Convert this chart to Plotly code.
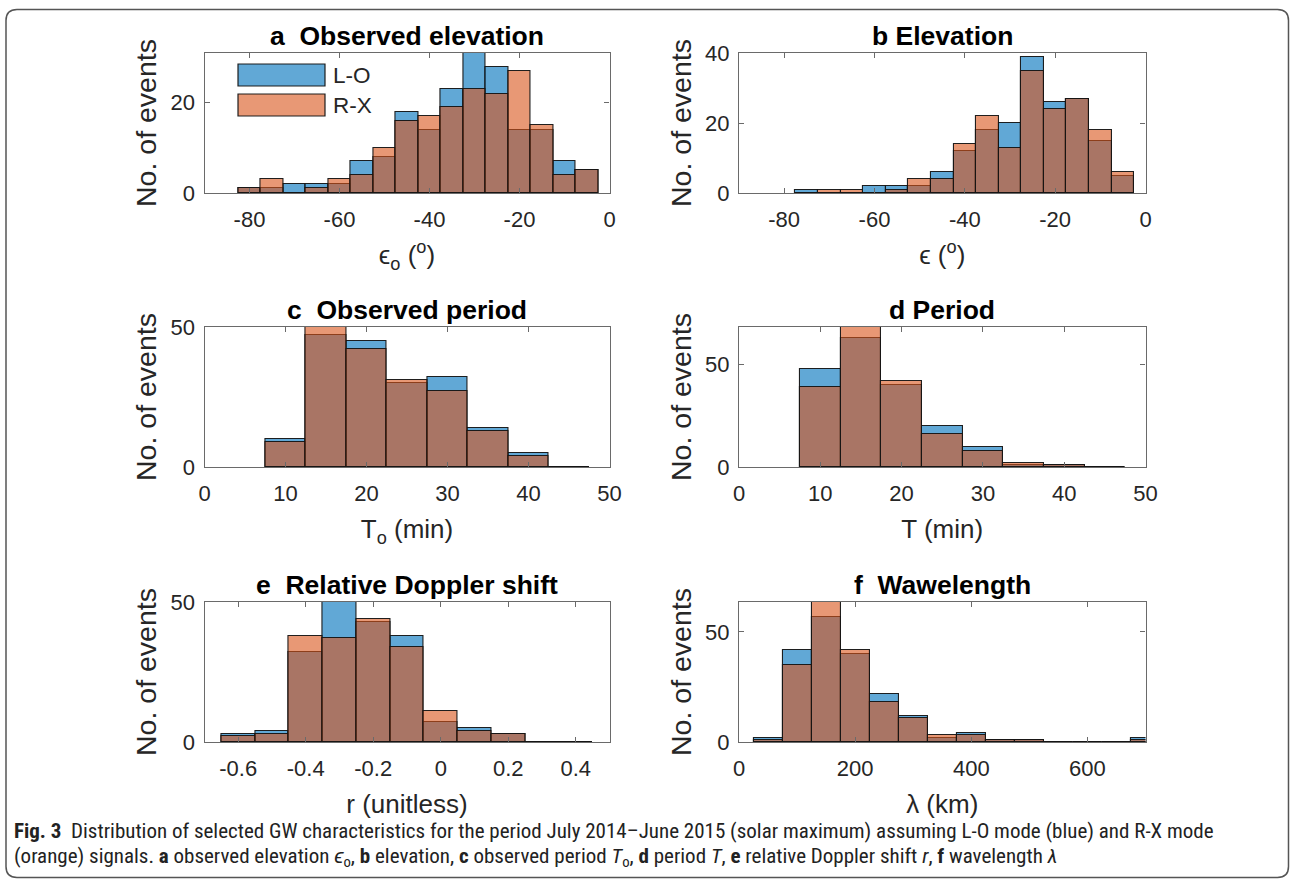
import plotly.graph_objects as go

# ---------------- data ----------------
a_centers = [-80, -75, -70, -65, -60, -55, -50, -45, -40, -35, -30, -25, -20, -15, -10, -5]
a_LO = [1, 1, 2, 2, 2, 7, 8, 18, 14, 23, 31, 28, 14, 14, 7, 5]
a_RX = [1, 3, 0, 1, 3, 4, 10, 16, 17, 19, 23, 22, 27, 15, 4, 5]

b_centers = [-75, -70, -65, -60, -55, -50, -45, -40, -35, -30, -25, -20, -15, -10, -5]
b_LO = [1, 0, 0, 2, 2, 2, 6, 12, 18, 20, 39, 26, 27, 15, 5]
b_RX = [0, 1, 1, 0, 1, 4, 4, 14, 22, 13, 35, 24, 27, 18, 6]

c_centers = [10, 15, 20, 25, 30, 35, 40, 45]
c_LO = [10, 47, 45, 30, 32, 14, 5, 0]
c_RX = [9, 53, 42, 31, 27, 13, 4, 0]

d_centers = [10, 15, 20, 25, 30, 35, 40, 45]
d_LO = [48, 63, 40, 20, 10, 1, 1, 0]
d_RX = [39, 70, 42, 16, 8, 2, 1, 0]

e_centers = [-0.6, -0.5, -0.4, -0.3, -0.2, -0.1, 0.0, 0.1, 0.2, 0.3, 0.4]
e_LO = [3, 4, 32, 53, 43, 38, 7, 5, 3, 0, 0]
e_RX = [2, 3, 38, 37, 44, 34, 11, 4, 3, 0, 0]

f_centers = [50, 100, 150, 200, 250, 300, 350, 400, 450, 500, 550, 600, 650, 700]
f_LO = [2, 42, 57, 40, 22, 12, 2, 4, 1, 1, 0, 0, 0, 2]
f_RX = [1, 35, 65, 42, 18, 11, 3, 3, 1, 1, 0, 0, 0, 1]

elev_ticks = [-80, -60, -40, -20, 0]
elev_ticktext = ["-80", "-60", "-40", "-20", "0"]
period_ticks = [0, 10, 20, 30, 40, 50]
period_ticktext = ["0", "10", "20", "30", "40", "50"]
r_ticks = [-0.6, -0.4, -0.2, 0, 0.2, 0.4]
r_ticktext = ["-0.6", "-0.4", "-0.2", "0", "0.2", "0.4"]
lam_ticks = [0, 200, 400, 600]
lam_ticktext = ["0", "200", "400", "600"]

titles = ["a\u00a0 Observed elevation", "b\u00a0Elevation", "c\u00a0 Observed period",
          "d\u00a0Period", "e\u00a0 Relative Doppler shift", "f\u00a0 Wawelength"]
xlabels = ["\u03f5<sub>o</sub> (<sup>o</sup>)", "\u03f5 (<sup>o</sup>)", "T<sub>o</sub> (min)",
           "T (min)", "r (unitless)", "\u03bb (km)"]
ylabel = "No. of events"
series_names = ["L-O", "R-X"]

# ---------------- styling ----------------
W, H = 1290, 879
FONT = "Liberation Sans, Arial, Helvetica, sans-serif"
BLUE = "rgba(0,114,189,0.62)"
ORANGE = "rgba(217,83,25,0.6)"
EDGE = "rgba(20,20,20,0.95)"
AXC = "#6a6a6a"
TXT = "#262626"


def px(x):
    return x / W


def py(y):
    return 1 - y / H


cols = [(204.5, 609.5), (739.0, 1145.5)]
rows = [(53.0, 193.0), (327.0, 467.0), (602.0, 742.0)]

panels = [
    dict(c=a_centers, lo=a_LO, rx=a_RX, w=5, xr=[-90, 0], yr=[0, 31], tv=elev_ticks, tt=elev_ticktext, yt=[0, 20]),
    dict(c=b_centers, lo=b_LO, rx=b_RX, w=5, xr=[-90, 0], yr=[0, 40], tv=elev_ticks, tt=elev_ticktext, yt=[0, 20, 40]),
    dict(c=c_centers, lo=c_LO, rx=c_RX, w=5, xr=[0, 50], yr=[0, 50], tv=period_ticks, tt=period_ticktext, yt=[0, 50]),
    dict(c=d_centers, lo=d_LO, rx=d_RX, w=5, xr=[0, 50], yr=[0, 68.4], tv=period_ticks, tt=period_ticktext, yt=[0, 50]),
    dict(c=e_centers, lo=e_LO, rx=e_RX, w=0.1, xr=[-0.7, 0.5], yr=[0, 50], tv=r_ticks, tt=r_ticktext, yt=[0, 50]),
    dict(c=f_centers, lo=f_LO, rx=f_RX, w=50, xr=[0, 700], yr=[0, 63.6], tv=lam_ticks, tt=lam_ticktext, yt=[0, 50]),
]

fig = go.Figure()
layout_axes = {}
annotations = []

for i, p in enumerate(panels):
    k = i + 1
    sfx = "" if k == 1 else str(k)
    r, cidx = divmod(i, 2)
    x0, x1 = cols[cidx]
    y0, y1 = rows[r]
    n = len(p["c"])
    for name, vals, col in ((series_names[0], p["lo"], BLUE), (series_names[1], p["rx"], ORANGE)):
        fig.add_trace(go.Bar(
            x=p["c"], y=vals, width=[p["w"]] * n, name=name,
            marker=dict(color=col, line=dict(color=EDGE, width=1.1)),
            xaxis="x" + sfx, yaxis="y" + sfx, showlegend=False,
        ))
    layout_axes["xaxis" + sfx] = dict(
        domain=[px(x0), px(x1)], range=p["xr"], anchor="y" + sfx,
        tickmode="array", tickvals=p["tv"], ticktext=p["tt"],
        ticks="inside", ticklen=5, tickcolor=AXC, tickwidth=1,
        showline=True, linecolor=AXC, linewidth=1.2, mirror="ticks",
        showgrid=False, zeroline=False, automargin=False,
        tickfont=dict(family=FONT, size=22, color=TXT), ticklabelstandoff=6,
        title=dict(text=xlabels[i], font=dict(family=FONT, size=26, color=TXT), standoff=15),
        fixedrange=True,
    )
    layout_axes["yaxis" + sfx] = dict(
        domain=[py(y1), py(y0)], range=p["yr"], anchor="x" + sfx,
        tickmode="array", tickvals=p["yt"],
        ticks="inside", ticklen=5, tickcolor=AXC, tickwidth=1,
        showline=True, linecolor=AXC, linewidth=1.2, mirror="ticks",
        showgrid=False, zeroline=False, automargin=False,
        tickfont=dict(family=FONT, size=22, color=TXT), ticklabelstandoff=4,
        title=dict(text=ylabel, font=dict(family=FONT, size=28.5, color=TXT), standoff=5),
        fixedrange=True,
    )
    annotations.append(dict(
        text="<b>" + titles[i] + "</b>", x=px((x0 + x1) / 2), y=py(y0), xref="paper", yref="paper",
        xanchor="center", yanchor="bottom", yshift=0, showarrow=False,
        font=dict(family=FONT, size=26.5, color="#000000"),
    ))

# legend (panel a) drawn as swatches + text
shapes = []
leg = [(series_names[0], BLUE, 64, 86), (series_names[1], ORANGE, 94, 116)]
for name, col, t, b in leg:
    shapes.append(dict(type="rect", xref="paper", yref="paper", x0=px(238), x1=px(325), y0=py(b), y1=py(t),
                       fillcolor=col, line=dict(color=EDGE, width=1.2), layer="above"))
    annotations.append(dict(text=name, x=px(331), y=py((t + b) / 2), xref="paper", yref="paper",
                            xanchor="left", yanchor="middle", showarrow=False,
                            font=dict(family=FONT, size=22.5, color=TXT)))

# outer rounded frame
fx0, fx1, fy0, fy1, rad = 6, 1288.5, 9.5, 877.5, 11


def P(x, y):
    return f"{px(x):.6f},{py(y):.6f}"


frame_path = (f"M {P(fx0 + rad, fy0)} L {P(fx1 - rad, fy0)} Q {P(fx1, fy0)} {P(fx1, fy0 + rad)} "
              f"L {P(fx1, fy1 - rad)} Q {P(fx1, fy1)} {P(fx1 - rad, fy1)} "
              f"L {P(fx0 + rad, fy1)} Q {P(fx0, fy1)} {P(fx0, fy1 - rad)} "
              f"L {P(fx0, fy0 + rad)} Q {P(fx0, fy0)} {P(fx0 + rad, fy0)} Z")
shapes.append(dict(type="path", path=frame_path, xref="paper", yref="paper",
                   line=dict(color="#555555", width=1.5), fillcolor="rgba(0,0,0,0)"))

# caption
CAPFONT = "Liberation Sans Narrow, Arial Narrow, Roboto Condensed, Liberation Sans, sans-serif"
cap1 = ("<b>Fig. 3</b>\u00a0 Distribution of selected GW characteristics for the period July 2014\u2013June 2015 "
        "(solar maximum) assuming L-O mode (blue) and R-X mode")
cap2 = ("(orange) signals. <b>a</b> observed elevation <i>\u03f5</i><sub>o</sub>, <b>b</b> elevation, "
        "<b>c</b> observed period <i>T</i><sub>o</sub>, <b>d</b> period <i>T</i>, <b>e</b> relative Doppler shift "
        "<i>r</i>, <b>f</b> wavelength <i>\u03bb</i>")
annotations.append(dict(text=cap1, x=px(12), y=py(831), xref="paper", yref="paper", xanchor="left",
                        yanchor="middle", showarrow=False, font=dict(family=CAPFONT, size=21, color="#222222")))
annotations.append(dict(text=cap2, x=px(12), y=py(857), xref="paper", yref="paper", xanchor="left",
                        yanchor="middle", showarrow=False, font=dict(family=CAPFONT, size=21, color="#222222")))

fig.update_layout(
    width=W, height=H, margin=dict(l=0, r=0, t=0, b=0),
    paper_bgcolor="white", plot_bgcolor="white",
    barmode="overlay", bargap=0, showlegend=False,
    font=dict(family=FONT, color=TXT),
    annotations=annotations, shapes=shapes,
    **layout_axes,
)

fig.write_html("out.html")
